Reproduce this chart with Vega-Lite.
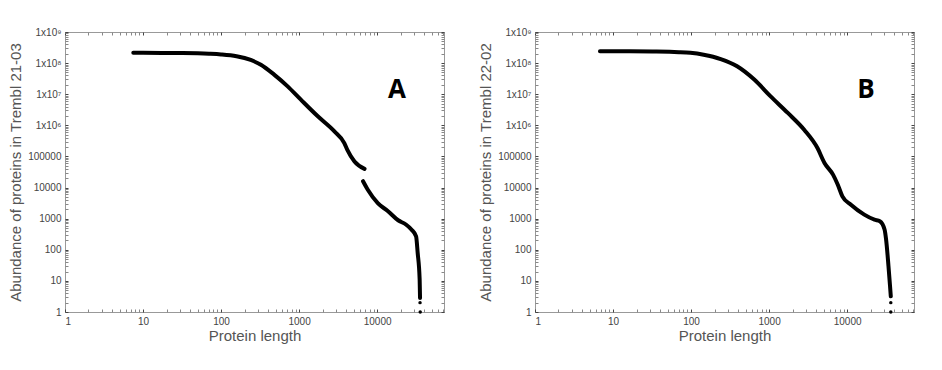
{
  "$schema": "https://vega.github.io/schema/vega-lite/v6.json",
  "background": "white",
  "padding": {"left": 8, "top": 26, "right": 10, "bottom": 10},
  "spacing": 33,
  "datasets": {
    "a": [
      {"len": 7.5, "n": 214000000, "seg": 1},
      {"len": 10, "n": 214000000, "seg": 1},
      {"len": 32, "n": 210000000, "seg": 1},
      {"len": 70, "n": 200000000, "seg": 1},
      {"len": 100, "n": 190000000, "seg": 1},
      {"len": 158, "n": 166000000, "seg": 1},
      {"len": 240, "n": 126000000, "seg": 1},
      {"len": 324, "n": 89000000, "seg": 1},
      {"len": 479, "n": 42700000, "seg": 1},
      {"len": 708, "n": 18200000, "seg": 1},
      {"len": 1047, "n": 6800000, "seg": 1},
      {"len": 1738, "n": 1950000, "seg": 1},
      {"len": 2818, "n": 650000, "seg": 1},
      {"len": 3800, "n": 270000, "seg": 1},
      {"len": 4170, "n": 160000, "seg": 1},
      {"len": 5130, "n": 69000, "seg": 1},
      {"len": 6900, "n": 40000, "seg": 1},
      {"len": 6600, "n": 16000, "seg": 2},
      {"len": 7600, "n": 8500, "seg": 2},
      {"len": 10200, "n": 3160, "seg": 2},
      {"len": 13800, "n": 1740, "seg": 2},
      {"len": 18600, "n": 890, "seg": 2},
      {"len": 23400, "n": 650, "seg": 2},
      {"len": 27500, "n": 450, "seg": 2},
      {"len": 31600, "n": 270, "seg": 2},
      {"len": 33100, "n": 80, "seg": 2},
      {"len": 35100, "n": 11, "seg": 2},
      {"len": 35500, "n": 2.8, "seg": 2}
    ],
    "ptsA": [
      {"len": 35500, "n": 2},
      {"len": 35700, "n": 1}
    ],
    "b": [
      {"len": 6.8, "n": 240000000, "seg": 1},
      {"len": 10, "n": 240000000, "seg": 1},
      {"len": 32, "n": 235000000, "seg": 1},
      {"len": 70, "n": 225000000, "seg": 1},
      {"len": 98, "n": 214000000, "seg": 1},
      {"len": 145, "n": 186000000, "seg": 1},
      {"len": 240, "n": 135000000, "seg": 1},
      {"len": 389, "n": 79000000, "seg": 1},
      {"len": 646, "n": 29500000, "seg": 1},
      {"len": 1047, "n": 8500000, "seg": 1},
      {"len": 1738, "n": 2500000, "seg": 1},
      {"len": 2818, "n": 720000, "seg": 1},
      {"len": 4170, "n": 186000, "seg": 1},
      {"len": 5130, "n": 62000, "seg": 1},
      {"len": 6600, "n": 26000, "seg": 1},
      {"len": 7600, "n": 12300, "seg": 1},
      {"len": 8700, "n": 5200, "seg": 1},
      {"len": 11200, "n": 2800, "seg": 1},
      {"len": 16600, "n": 1350, "seg": 1},
      {"len": 22400, "n": 930, "seg": 1},
      {"len": 26300, "n": 830, "seg": 1},
      {"len": 30200, "n": 450, "seg": 1},
      {"len": 31600, "n": 215, "seg": 1},
      {"len": 33900, "n": 30, "seg": 1},
      {"len": 35500, "n": 6.8, "seg": 1},
      {"len": 36300, "n": 3.2, "seg": 1}
    ],
    "ptsB": [
      {"len": 36300, "n": 2},
      {"len": 36300, "n": 1}
    ],
    "labA": [{"len": 18000, "n": 14000000, "t": "A"}],
    "labB": [{"len": 17500, "n": 14000000, "t": "B"}]
  },
  "hconcat": [
    {
      "width": 379,
      "height": 280,
      "layer": [
        {
          "data": {"name": "a"},
          "mark": {"type": "line", "color": "black", "strokeWidth": 4, "strokeCap": "round", "strokeJoin": "round", "interpolate": "monotone"},
          "encoding": {
            "x": {"field": "len", "type": "quantitative", "scale": {"type": "log", "domain": [1, 72000], "nice": false},
              "axis": {"orient": "bottom", "title": "Protein length",
                "values": [1,2,3,4,5,6,7,8,9,10,20,30,40,50,60,70,80,90,100,200,300,400,500,600,700,800,900,1000,2000,3000,4000,5000,6000,7000,8000,9000,10000,20000,30000,40000,50000,60000,70000],
                "labelExpr": "abs(log(datum.value)/LN10 - round(log(datum.value)/LN10)) > 0.001 ? '' : format(datum.value, 'd')",
                "labelPadding": 7, "titlePadding": 2}},
            "y": {"field": "n", "type": "quantitative", "scale": {"type": "log", "domain": [1, 1000000000], "nice": false},
              "axis": {"orient": "left", "title": "Abundance of proteins in Trembl 21-03",
                "values": [1,2,3,4,5,6,7,8,9,10,20,30,40,50,60,70,80,90,100,200,300,400,500,600,700,800,900,1000,2000,3000,4000,5000,6000,7000,8000,9000,10000,20000,30000,40000,50000,60000,70000,80000,90000,100000,200000,300000,400000,500000,600000,700000,800000,900000,1000000,2000000,3000000,4000000,5000000,6000000,7000000,8000000,9000000,10000000,20000000,30000000,40000000,50000000,60000000,70000000,80000000,90000000,100000000,200000000,300000000,400000000,500000000,600000000,700000000,800000000,900000000,1000000000],
                "labelExpr": "abs(log(datum.value)/LN10 - round(log(datum.value)/LN10)) > 0.001 ? '' : round(log(datum.value)/LN10) == 9 ? '1x10⁹' : round(log(datum.value)/LN10) == 8 ? '1x10⁸' : round(log(datum.value)/LN10) == 7 ? '1x10⁷' : round(log(datum.value)/LN10) == 6 ? '1x10⁶' : format(datum.value, 'd')",
                "labelPadding": 7, "titlePadding": 4}},
            "detail": {"field": "seg", "type": "nominal"}
          }
        },
        {
          "data": {"name": "ptsA"},
          "mark": {"type": "circle", "color": "black", "size": 12, "opacity": 1},
          "encoding": {
            "x": {"field": "len", "type": "quantitative", "scale": {"type": "log", "domain": [1, 72000], "nice": false},
              "axis": {"orient": "top", "title": null, "labels": false,
                "values": [1,2,3,4,5,6,7,8,9,10,20,30,40,50,60,70,80,90,100,200,300,400,500,600,700,800,900,1000,2000,3000,4000,5000,6000,7000,8000,9000,10000,20000,30000,40000,50000,60000,70000]}},
            "y": {"field": "n", "type": "quantitative", "scale": {"type": "log", "domain": [1, 1000000000], "nice": false},
              "axis": {"orient": "right", "title": null, "labels": false,
                "values": [1,2,3,4,5,6,7,8,9,10,20,30,40,50,60,70,80,90,100,200,300,400,500,600,700,800,900,1000,2000,3000,4000,5000,6000,7000,8000,9000,10000,20000,30000,40000,50000,60000,70000,80000,90000,100000,200000,300000,400000,500000,600000,700000,800000,900000,1000000,2000000,3000000,4000000,5000000,6000000,7000000,8000000,9000000,10000000,20000000,30000000,40000000,50000000,60000000,70000000,80000000,90000000,100000000,200000000,300000000,400000000,500000000,600000000,700000000,800000000,900000000,1000000000]}}
          }
        },
        {
          "data": {"name": "labA"},
          "mark": {"type": "text", "font": "Open Sans", "fontWeight": "bold", "fontSize": 26, "color": "black"},
          "encoding": {
            "x": {"field": "len", "type": "quantitative", "scale": {"type": "log", "domain": [1, 72000], "nice": false}, "axis": null},
            "y": {"field": "n", "type": "quantitative", "scale": {"type": "log", "domain": [1, 1000000000], "nice": false}, "axis": null},
            "text": {"field": "t"}
          }
        }
      ],
      "resolve": {"axis": {"x": "independent", "y": "independent"}}
    },
    {
      "width": 379,
      "height": 280,
      "layer": [
        {
          "data": {"name": "b"},
          "mark": {"type": "line", "color": "black", "strokeWidth": 4, "strokeCap": "round", "strokeJoin": "round", "interpolate": "monotone"},
          "encoding": {
            "x": {"field": "len", "type": "quantitative", "scale": {"type": "log", "domain": [1, 72000], "nice": false},
              "axis": {"orient": "bottom", "title": "Protein length",
                "values": [1,2,3,4,5,6,7,8,9,10,20,30,40,50,60,70,80,90,100,200,300,400,500,600,700,800,900,1000,2000,3000,4000,5000,6000,7000,8000,9000,10000,20000,30000,40000,50000,60000,70000],
                "labelExpr": "abs(log(datum.value)/LN10 - round(log(datum.value)/LN10)) > 0.001 ? '' : format(datum.value, 'd')",
                "labelPadding": 7, "titlePadding": 2}},
            "y": {"field": "n", "type": "quantitative", "scale": {"type": "log", "domain": [1, 1000000000], "nice": false},
              "axis": {"orient": "left", "title": "Abundance of proteins in Trembl 22-02",
                "values": [1,2,3,4,5,6,7,8,9,10,20,30,40,50,60,70,80,90,100,200,300,400,500,600,700,800,900,1000,2000,3000,4000,5000,6000,7000,8000,9000,10000,20000,30000,40000,50000,60000,70000,80000,90000,100000,200000,300000,400000,500000,600000,700000,800000,900000,1000000,2000000,3000000,4000000,5000000,6000000,7000000,8000000,9000000,10000000,20000000,30000000,40000000,50000000,60000000,70000000,80000000,90000000,100000000,200000000,300000000,400000000,500000000,600000000,700000000,800000000,900000000,1000000000],
                "labelExpr": "abs(log(datum.value)/LN10 - round(log(datum.value)/LN10)) > 0.001 ? '' : round(log(datum.value)/LN10) == 9 ? '1x10⁹' : round(log(datum.value)/LN10) == 8 ? '1x10⁸' : round(log(datum.value)/LN10) == 7 ? '1x10⁷' : round(log(datum.value)/LN10) == 6 ? '1x10⁶' : format(datum.value, 'd')",
                "labelPadding": 7, "titlePadding": 4}},
            "detail": {"field": "seg", "type": "nominal"}
          }
        },
        {
          "data": {"name": "ptsB"},
          "mark": {"type": "circle", "color": "black", "size": 12, "opacity": 1},
          "encoding": {
            "x": {"field": "len", "type": "quantitative", "scale": {"type": "log", "domain": [1, 72000], "nice": false},
              "axis": {"orient": "top", "title": null, "labels": false,
                "values": [1,2,3,4,5,6,7,8,9,10,20,30,40,50,60,70,80,90,100,200,300,400,500,600,700,800,900,1000,2000,3000,4000,5000,6000,7000,8000,9000,10000,20000,30000,40000,50000,60000,70000]}},
            "y": {"field": "n", "type": "quantitative", "scale": {"type": "log", "domain": [1, 1000000000], "nice": false},
              "axis": {"orient": "right", "title": null, "labels": false,
                "values": [1,2,3,4,5,6,7,8,9,10,20,30,40,50,60,70,80,90,100,200,300,400,500,600,700,800,900,1000,2000,3000,4000,5000,6000,7000,8000,9000,10000,20000,30000,40000,50000,60000,70000,80000,90000,100000,200000,300000,400000,500000,600000,700000,800000,900000,1000000,2000000,3000000,4000000,5000000,6000000,7000000,8000000,9000000,10000000,20000000,30000000,40000000,50000000,60000000,70000000,80000000,90000000,100000000,200000000,300000000,400000000,500000000,600000000,700000000,800000000,900000000,1000000000]}}
          }
        },
        {
          "data": {"name": "labB"},
          "mark": {"type": "text", "font": "Open Sans", "fontWeight": "bold", "fontSize": 26, "color": "black"},
          "encoding": {
            "x": {"field": "len", "type": "quantitative", "scale": {"type": "log", "domain": [1, 72000], "nice": false}, "axis": null},
            "y": {"field": "n", "type": "quantitative", "scale": {"type": "log", "domain": [1, 1000000000], "nice": false}, "axis": null},
            "text": {"field": "t"}
          }
        }
      ],
      "resolve": {"axis": {"x": "independent", "y": "independent"}}
    }
  ],
  "config": {
    "view": {"stroke": "#999", "strokeWidth": 1},
    "axis": {"domain": false, "grid": false, "tickSize": -3, "tickWidth": 1,
      "tickColor": {"condition": {"test": "abs(log(datum.value)/LN10 - round(log(datum.value)/LN10)) < 0.001", "value": "#444"}, "value": "#888"},
      "labelFont": "Liberation Sans", "labelFontSize": 10, "labelColor": "#444",
      "titleFont": "Liberation Sans", "titleFontSize": 15, "titleFontWeight": "normal", "titleColor": "#555"}
  }
}
